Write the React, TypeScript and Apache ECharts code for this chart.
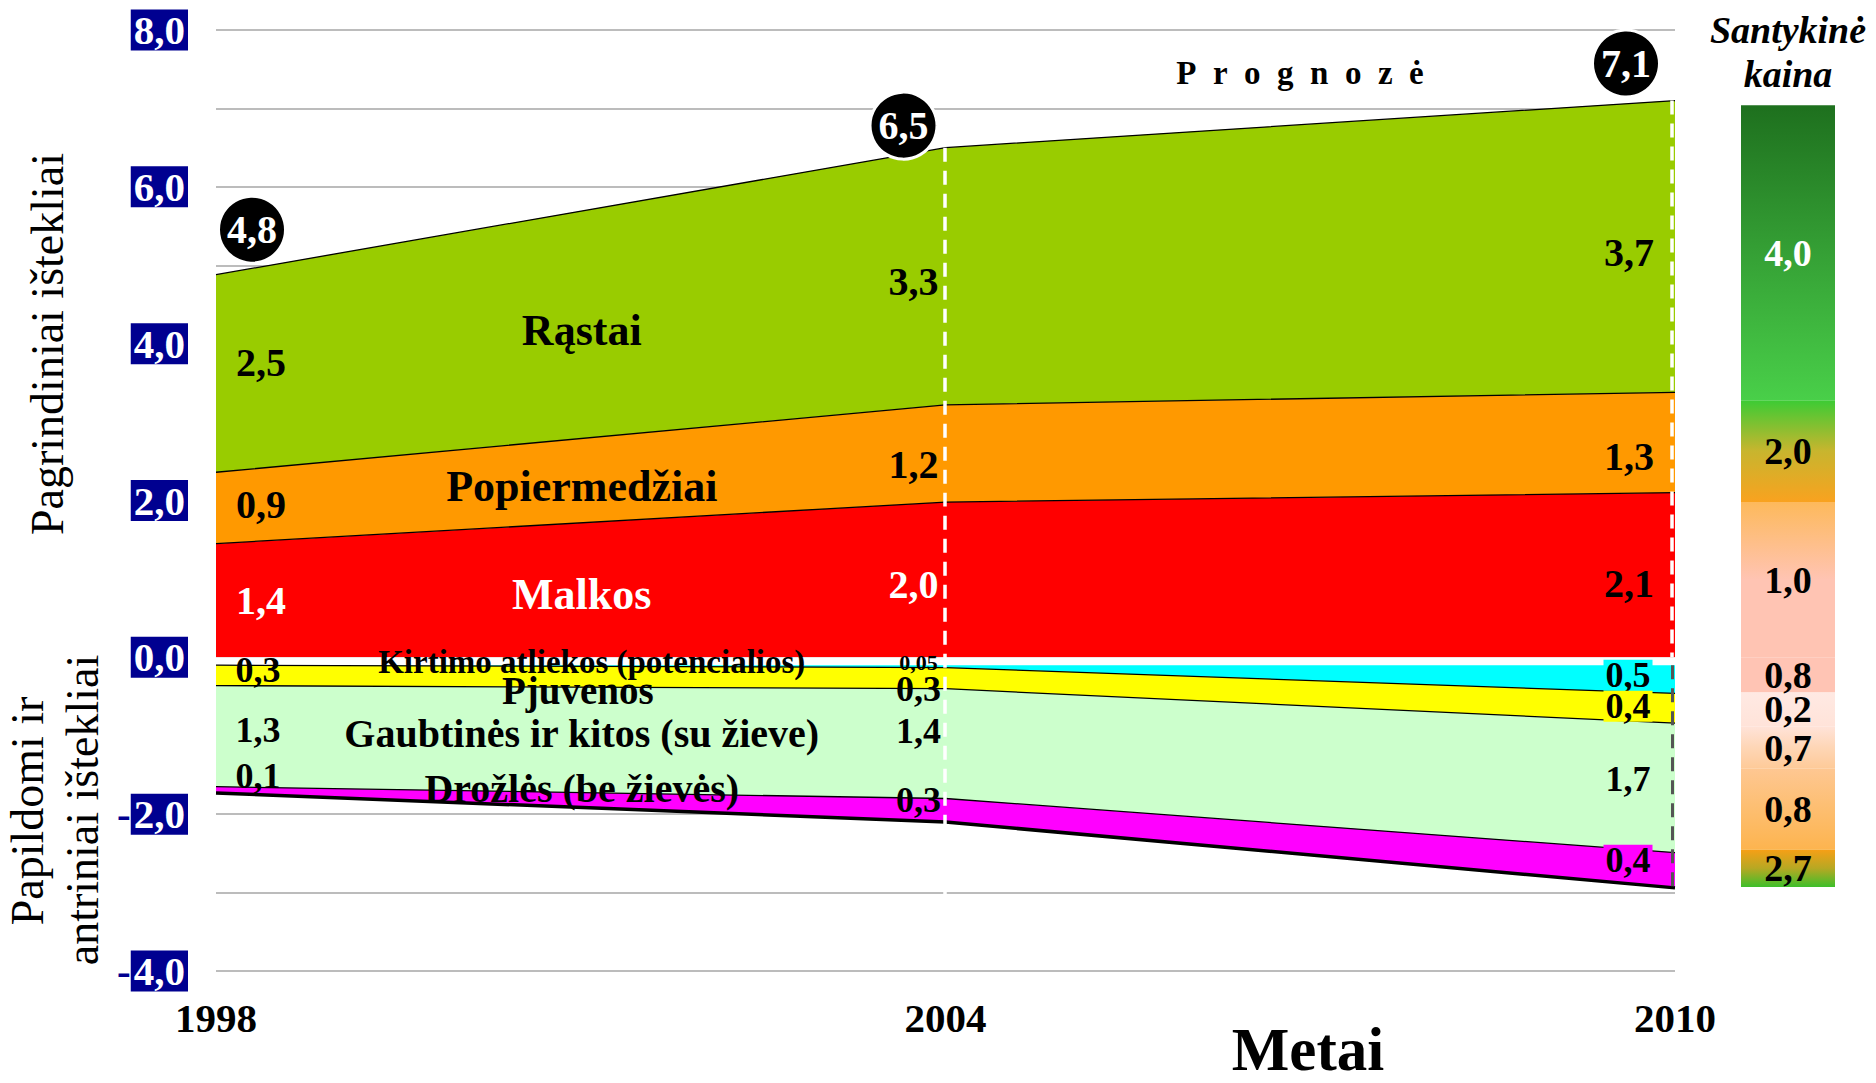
import React, { useEffect, useRef } from 'react';
import * as echarts from 'echarts';

const FONT = '"Liberation Serif", "Times New Roman", serif';

// x axis (years)
const years = [1998, 2004, 2010];
const yearLabels = ['1998', '2004', '2010'];

// Pagrindiniai ištekliai (stacked upwards)
const malkos = [1.45, 1.98, 2.1];
const popiermedziai = [0.91, 1.24, 1.28];
const rastai = [2.52, 3.28, 3.72];

// Papildomi ir antriniai ištekliai (stacked downwards)
const baseGap = [-0.1, -0.1, -0.1];
const kirtimoAtliekos = [0, -0.03, -0.36];
const pjuvenos = [-0.26, -0.27, -0.38];
const gaubtines = [-1.29, -1.4, -1.65];
const drozles = [-0.08, -0.3, -0.45];

// printed values
const malkosText = ['1,4', '2,0', '2,1'];
const popiermedziaiText = ['0,9', '1,2', '1,3'];
const rastaiText = ['2,5', '3,3', '3,7'];
const kirtimoText = ['', '0,05', '0,5'];
const pjuvenosText = ['0,3', '0,3', '0,4'];
const gaubtinesText = ['1,3', '1,4', '1,7'];
const drozlesText = ['0,1', '0,3', '0,4'];
const totalText = ['4,8', '6,5', '7,1'];

// Santykinė kaina bar
const priceText = ['1,0', '2,0', '4,0', '0,8', '0,2', '0,7', '0,8', '2,7'];
const priceHeights = [1.98, 1.3, 3.76, -0.45, -0.43, -0.54, -1.03, -0.48];

// styling tables (not data)
const priceTop = ['#FDB95B', '#3CCB34', '#1E701E', '#FFC4B4', '#FFE9E3', '#FFE3D9', '#FEC792', '#F79F16'];
const priceMid = ['#FFC4B3', '#C8B52E', '#35A035', '#FFC4B4', '#FFE6DE', '#FED6B6', '#FDBE70', '#B7A823'];
const priceBottom = ['#FFC4B3', '#F9A21F', '#49CF49', '#FFC4B4', '#FFE3D9', '#FECA98', '#FDB44F', '#3DBF2B'];
const priceTextColor = ['#000', '#000', '#fff', '#000', '#000', '#000', '#000', '#000'];

const posDx = [45, -32, -46];
const negDx = [42, -27, -47];

function App() {
  const ref = useRef<HTMLDivElement>(null);

  useEffect(() => {
    if (!ref.current) return;
    const chart = echarts.init(ref.current, undefined, { renderer: 'svg' });

    const posLayers = [
      { name: 'Malkos', data: malkos, text: malkosText, color: '#FF0000', textColor: ['#fff', '#fff', '#000'], nameColor: '#fff', nameSize: 44, nameDx: 1, nameDy: 4, dy: [0, 5, 9] },
      { name: 'Popiermedžiai', data: popiermedziai, text: popiermedziaiText, color: '#FF9900', textColor: ['#000', '#000', '#000'], nameColor: '#000', nameSize: 44, nameDx: 1, nameDy: 6, dy: [-3, 11, 14] },
      { name: 'Rąstai', data: rastai, text: rastaiText, color: '#99CC00', textColor: ['#000', '#000', '#000'], nameColor: '#000', nameSize: 44, nameDx: 1, nameDy: 6, dy: [-11, 5, 6] },
    ];
    const negLayers = [
      { name: 'Kirtimo atliekos (potencialios)', data: kirtimoAtliekos, text: kirtimoText, color: '#00FFFF', nameSize: 33, nameDx: 11, nameDy: -4, dy: [0, -4, -4], size: [35, 22, 36], bg: [null, null, '#00FFFF'] },
      { name: 'Pjuvenos', data: pjuvenos, text: pjuvenosText, color: '#FFFF00', nameSize: 39, nameDx: -3, nameDy: 14, dy: [-5, 11, -2], size: [36, 36, 36], bg: [null, null, '#FFFF00'] },
      { name: 'Gaubtinės ir kitos (su žieve)', data: gaubtines, text: gaubtinesText, color: '#CCFFCC', nameSize: 40, nameDx: 1, nameDy: -6, dy: [-6, -13, -9], size: [36, 36, 36], bg: [null, null, null] },
      { name: 'Drožlės (be žievės)', data: drozles, text: drozlesText, color: '#FF00FF', nameSize: 40, nameDx: 1, nameDy: -12, dy: [-14, -10, -10], size: [36, 36, 36], bg: [null, null, '#FF00FF'] },
    ];

    // cumulative bounds
    const bounds = (layers: number[][], start: number[]) => {
      let run = start.slice();
      return layers.map((l) => {
        const lower = run.slice();
        run = run.map((v, i) => v + l[i]);
        return { lower, upper: run.slice() };
      });
    };
    const posB = bounds(posLayers.map((l) => l.data), [0, 0, 0]);
    const negB = bounds(negLayers.map((l) => l.data), baseGap);
    const totals = posB[posB.length - 1].upper;
    const negTotals = negB[negB.length - 1].upper;

    const area = (name: string, data: number[], stack: string, color: string, lw: number, lc: string) => ({
      name,
      type: 'line',
      xAxisIndex: 0,
      yAxisIndex: 0,
      stack,
      stackStrategy: 'all',
      data: data.slice(),
      symbol: 'none',
      showSymbol: false,
      silent: true,
      lineStyle: { color: lc, width: lw },
      areaStyle: { color, opacity: 1 },
      itemStyle: { color },
      z: 2,
    });

    const series: any[] = [];
    posLayers.forEach((l) => series.push(area(l.name, l.data, 'pos', l.color, 1.3, '#000')));
    series.push(area('gap', baseGap, 'neg', '#ffffff', 0, 'rgba(0,0,0,0)'));
    negLayers.forEach((l, k) => {
      const last = k === negLayers.length - 1;
      series.push(area(l.name, l.data, 'neg', l.color, last ? 3.5 : 1.3, '#000'));
    });

    // value labels
    const valueItems: any[] = [];
    posLayers.forEach((l, k) => {
      years.forEach((y, i) => {
        const mid = (posB[k].lower[i] + posB[k].upper[i]) / 2;
        valueItems.push({
          value: [y, mid],
          label: { formatter: l.text[i], offset: [posDx[i], l.dy[i]], color: l.textColor[i], fontSize: 40 },
        });
      });
    });
    negLayers.forEach((l, k) => {
      years.forEach((y, i) => {
        if (!l.text[i]) return;
        const mid = (negB[k].lower[i] + negB[k].upper[i]) / 2;
        const lab: any = { formatter: l.text[i], offset: [negDx[i], l.dy[i]], color: '#000', fontSize: l.size[i] };
        if (l.bg[i]) {
          lab.backgroundColor = l.bg[i];
          lab.padding = [0, 2];
          lab.lineHeight = 31;
        }
        valueItems.push({ value: [y, mid], label: lab });
      });
    });
    const labelScatter = (data: any[], z: number, extra: any = {}) => ({
      type: 'scatter',
      xAxisIndex: 2,
      yAxisIndex: 0,
      symbolSize: 1,
      silent: true,
      z,
      itemStyle: { color: 'rgba(0,0,0,0)', opacity: 1 },
      label: { show: true, position: 'inside', fontFamily: FONT, fontWeight: 'bold', opacity: 1 },
      data,
      ...extra,
    });

    // dashed vertical year markers (slightly inside the plot edge at 2010)
    const x2004 = years[1] - 0.01;
    const x2010 = years[2] - 0.025;
    const dash = [14, 9];
    series.push(
      labelScatter(valueItems, 10, {
        markLine: {
          silent: true,
          symbol: ['none', 'none'],
          label: { show: false },
          z: 6,
          data: [
            [{ coord: [x2004, totals[1]], lineStyle: { color: '#ffffff', type: dash, width: 3.5 } }, { coord: [x2004, -4] }],
            [{ coord: [x2010, totals[2]], lineStyle: { color: '#ffffff', type: dash, width: 3.5 } }, { coord: [x2010, 0] }],
            [{ coord: [x2010, baseGap[2]], lineStyle: { color: '#555555', type: dash, width: 3 } }, { coord: [x2010, negTotals[2]] }],
          ],
        },
      })
    );

    // band names (placed half way between 1998 and 2004)
    const nameX = (years[0] + years[1]) / 2;
    const nameItems: any[] = [];
    posLayers.forEach((l, k) => {
      const mid = (posB[k].lower[0] + posB[k].upper[0] + posB[k].lower[1] + posB[k].upper[1]) / 4;
      nameItems.push({ value: [nameX, mid], label: { formatter: l.name, color: l.nameColor, fontSize: l.nameSize, offset: [l.nameDx, l.nameDy] } });
    });
    negLayers.forEach((l, k) => {
      const mid = (negB[k].lower[0] + negB[k].upper[0] + negB[k].lower[1] + negB[k].upper[1]) / 4;
      nameItems.push({ value: [nameX, mid], label: { formatter: l.name, color: '#000', fontSize: l.nameSize, offset: [l.nameDx, l.nameDy] } });
    });
    series.push(labelScatter(nameItems, 9));

    // total circles
    const circleOffsets = [[36, -45], [-42, -22], [-49, -37]];
    series.push({
      type: 'scatter',
      xAxisIndex: 2,
      yAxisIndex: 0,
      symbol: 'circle',
      symbolSize: 67,
      silent: true,
      z: 11,
      itemStyle: { color: '#000', borderColor: '#fff', borderWidth: 3, opacity: 1 },
      label: { show: true, position: 'inside', fontFamily: FONT, fontWeight: 'bold', fontSize: 40, color: '#fff', opacity: 1 },
      data: years.map((y, i) => ({ value: [y, totals[i]], symbolOffset: circleOffsets[i], label: { formatter: totalText[i] } })),
    });

    // price bar
    priceHeights.forEach((h, i) => {
      series.push({
        type: 'bar',
        xAxisIndex: 1,
        yAxisIndex: 1,
        stack: 'price',
        barWidth: 94,
        silent: true,
        data: [h],
        itemStyle: {
          color: new echarts.graphic.LinearGradient(0, 0, 0, 1, [
            { offset: 0, color: priceTop[i] },
            { offset: 0.5, color: priceMid[i] },
            { offset: 1, color: priceBottom[i] },
          ]),
        },
        label: { show: true, position: 'inside', formatter: priceText[i], fontFamily: FONT, fontWeight: 'bold', fontSize: 38, color: priceTextColor[i] },
      });
    });

    const shadow = { shadowColor: 'rgba(0,0,0,0.45)', shadowBlur: 2, shadowOffsetX: 2, shadowOffsetY: 2 };
    const titleStyle = { fontFamily: FONT, fontSize: 46, fill: '#000', align: 'center', verticalAlign: 'middle' };

    const option: any = {
      animation: false,
      backgroundColor: '#ffffff',
      grid: [
        { left: 216, top: 30, width: 1459, height: 941, containLabel: false },
        { left: 1741, top: 30, width: 94, height: 941, containLabel: false },
      ],
      xAxis: [
        {
          type: 'category',
          data: yearLabels,
          boundaryGap: false,
          axisLine: { show: false },
          axisTick: { show: false },
          splitLine: { show: false },
          axisLabel: { interval: 0, fontFamily: FONT, fontWeight: 'bold', fontSize: 41, color: '#000', margin: 26 },
        },
        { type: 'category', gridIndex: 1, data: ['kaina'], show: false },
        { type: 'value', gridIndex: 0, min: years[0], max: years[2], show: false, splitLine: { show: false } },
      ],
      yAxis: [
        {
          type: 'value',
          min: -4,
          max: 8,
          interval: 1,
          axisLine: { show: false },
          axisTick: { show: false },
          splitLine: { lineStyle: { color: '#A6A6A6', width: 1.5 } },
          axisLabel: {
            margin: 28,
            formatter: (v: number) => {
              if (Math.round(v) % 2 !== 0) return '';
              const s = Math.abs(v).toFixed(1).replace('.', ',');
              return v < 0 ? `{m|-}{b|${s}}` : `{b|${s}}`;
            },
            rich: {
              b: { backgroundColor: '#000090', color: '#fff', fontFamily: FONT, fontWeight: 'bold', fontSize: 41, lineHeight: 53, padding: [0, 3] },
              m: { color: '#000090', fontFamily: FONT, fontWeight: 'bold', fontSize: 41, lineHeight: 53 },
            },
          },
        },
        { type: 'value', gridIndex: 1, min: -4, max: 8, show: false, splitLine: { show: false } },
      ],
      graphic: [
        { type: 'text', x: 47, y: 344, rotation: Math.PI / 2, silent: true, style: { text: 'Pagrindiniai ištekliai', ...titleStyle } },
        { type: 'text', x: 27, y: 811, rotation: Math.PI / 2, silent: true, style: { text: 'Papildomi ir', ...titleStyle } },
        { type: 'text', x: 82, y: 810, rotation: Math.PI / 2, silent: true, style: { text: 'antriniai ištekliai', ...titleStyle } },
        { type: 'text', x: 1308, y: 1049, silent: true, style: { text: 'Metai', fontFamily: FONT, fontSize: 61, fontWeight: 'bold', fill: '#000', align: 'center', verticalAlign: 'middle' } },
        { type: 'text', x: 1300, y: 73, silent: true, style: { text: 'P\u2002r\u2002o\u2002g\u2002n\u2002o\u2002z\u2002ė', fontFamily: FONT, fontSize: 33, fontWeight: 'bold', fill: '#000', align: 'center', verticalAlign: 'middle', ...shadow, shadowColor: 'rgba(0,0,0,0.25)' } },
        { type: 'text', x: 1788, y: 30, silent: true, style: { text: 'Santykinė', fontFamily: FONT, fontSize: 38, fontWeight: 'bold', fontStyle: 'italic', fill: '#000', align: 'center', verticalAlign: 'middle', ...shadow } },
        { type: 'text', x: 1788, y: 74, silent: true, style: { text: 'kaina', fontFamily: FONT, fontSize: 38, fontWeight: 'bold', fontStyle: 'italic', fill: '#000', align: 'center', verticalAlign: 'middle', ...shadow } },
      ],
      series,
    };

    chart.setOption(option);
    return () => chart.dispose();
  }, []);

  return <div ref={ref} style={{ position: 'absolute', left: 0, top: 0, width: 1876, height: 1083 }} />;
}

export default App;
